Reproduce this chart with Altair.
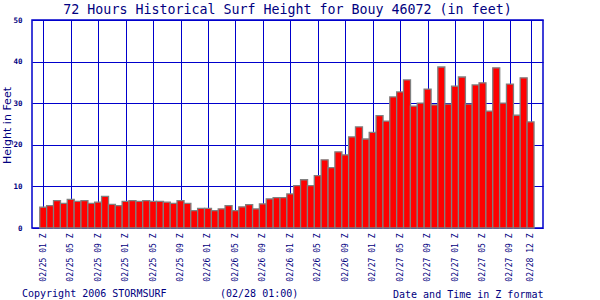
import altair as alt
import pandas as pd

# hourly surf height, 02/25 01Z .. 02/28 00Z (72 bars)
heights = [5.0, 5.4, 6.6, 5.9, 6.9, 6.4, 6.6, 5.9, 6.2, 7.6, 5.7, 5.4,
           6.4, 6.6, 6.4, 6.6, 6.4, 6.4, 6.2, 5.9, 6.6, 5.9, 4.2, 4.7,
           4.7, 4.2, 4.6, 5.4, 4.2, 5.1, 5.6, 4.6, 5.8, 7.0, 7.3, 7.3,
           8.2, 10.2, 11.6, 10.2, 12.6, 16.4, 14.5, 18.3, 17.6, 21.9, 24.3, 21.4,
           23.0, 27.0, 25.7, 31.5, 32.7, 35.6, 29.3, 30.0, 33.4, 29.6, 38.7, 29.8,
           34.1, 36.3, 29.8, 34.4, 34.9, 28.1, 38.5, 30.0, 34.6, 27.1, 36.1, 25.5]
hours = list(range(len(heights)))

tick_hours = [0, 4, 8, 12, 16, 20, 24, 28, 32, 36, 40, 44, 48, 52, 56, 60, 64, 68, 71]
tick_labels = ["02/25 01 Z", "02/25 05 Z", "02/25 09 Z", "02/25 01 Z", "02/25 05 Z", "02/25 09 Z",
               "02/26 01 Z", "02/26 05 Z", "02/26 09 Z", "02/26 01 Z", "02/26 05 Z", "02/26 09 Z",
               "02/27 01 Z", "02/27 05 Z", "02/27 09 Z", "02/27 01 Z", "02/27 05 Z", "02/27 09 Z",
               "02/28 12 Z"]
y_ticks = [0, 10, 20, 30, 40, 50]

NAVY = "#000080"
BLUE = "#0000CC"
MONO = "DejaVu Sans Mono"

df = pd.DataFrame({"hour": hours, "height": heights})

label_expr = "[" + ",".join("'%s'" % s for s in tick_labels) + "][indexof([" + \
    ",".join(str(v) for v in tick_hours) + "], datum.value)]"

bars = alt.Chart(df).mark_bar(size=7, color="#FF0000", stroke="#808080", strokeWidth=1.3).encode(
    x=alt.X("hour:Q",
            scale=alt.Scale(domain=[-0.914, 72.086], nice=False, zero=False),
            axis=alt.Axis(values=tick_hours, labelExpr=label_expr, labelAngle=270,
                          labelAlign="right", labelBaseline="middle", labelPadding=5,
                          labelFont=MONO, labelFontSize=8, labelColor=NAVY,
                          ticks=False, domain=False, grid=True, gridColor=BLUE,
                          gridOpacity=1, gridWidth=1,
                          title="Date and Time in Z format", titleFont=MONO,
                          titleFontSize=10, titleFontWeight="normal", titleColor=NAVY,
                          titleX=511, titleY=69, titleAlign="right",
                          titleBaseline="alphabetic", titleAnchor="end",
                          labelOverlap=False, labelFlush=False)),
    y=alt.Y("height:Q",
            scale=alt.Scale(domain=[0, 50], nice=False),
            axis=alt.Axis(values=y_ticks, labelFont=MONO, labelFontSize=7.5,
                          labelFontWeight="bold", labelColor=NAVY, labelPadding=10,
                          ticks=False, domain=False, grid=True, gridColor=BLUE,
                          gridOpacity=1, gridWidth=1,
                          title="Height in Feet", titleFont="DejaVu Sans",
                          titleFontSize=11, titleFontWeight="normal", titleColor=NAVY,
                          titleX=-25, titleY=105, titleAngle=270,
                          titleAlign="center", titleBaseline="middle")),
)

copyright_txt = alt.Chart(pd.DataFrame({"t": ["Copyright 2006 STORMSURF"]})).mark_text(
    font=MONO, fontSize=10, color=NAVY, align="left", baseline="alphabetic"
).encode(x=alt.value(-10), y=alt.value(277), text="t:N")

stamp_txt = alt.Chart(pd.DataFrame({"t": ["(02/28 01:00)"]})).mark_text(
    font=MONO, fontSize=10, color=NAVY, align="left", baseline="alphabetic"
).encode(x=alt.value(188), y=alt.value(277), text="t:N")

chart = alt.layer(bars, copyright_txt, stamp_txt).properties(
    width=511, height=208,
    autosize=alt.AutoSizeParams(type="none"),
    padding={"left": 32, "top": 20, "right": 57, "bottom": 72},
    title=alt.TitleParams("72 Hours Historical Surf Height for Bouy 46072 (in feet)",
                          font=MONO, fontSize=13.3, fontWeight="normal", color=NAVY,
                          anchor="middle", baseline="alphabetic", offset=5, dy=16),
    background="white",
).configure_view(stroke=BLUE, strokeWidth=1.5)

chart.save("out.html", embed_options={"renderer": "svg", "actions": False})
